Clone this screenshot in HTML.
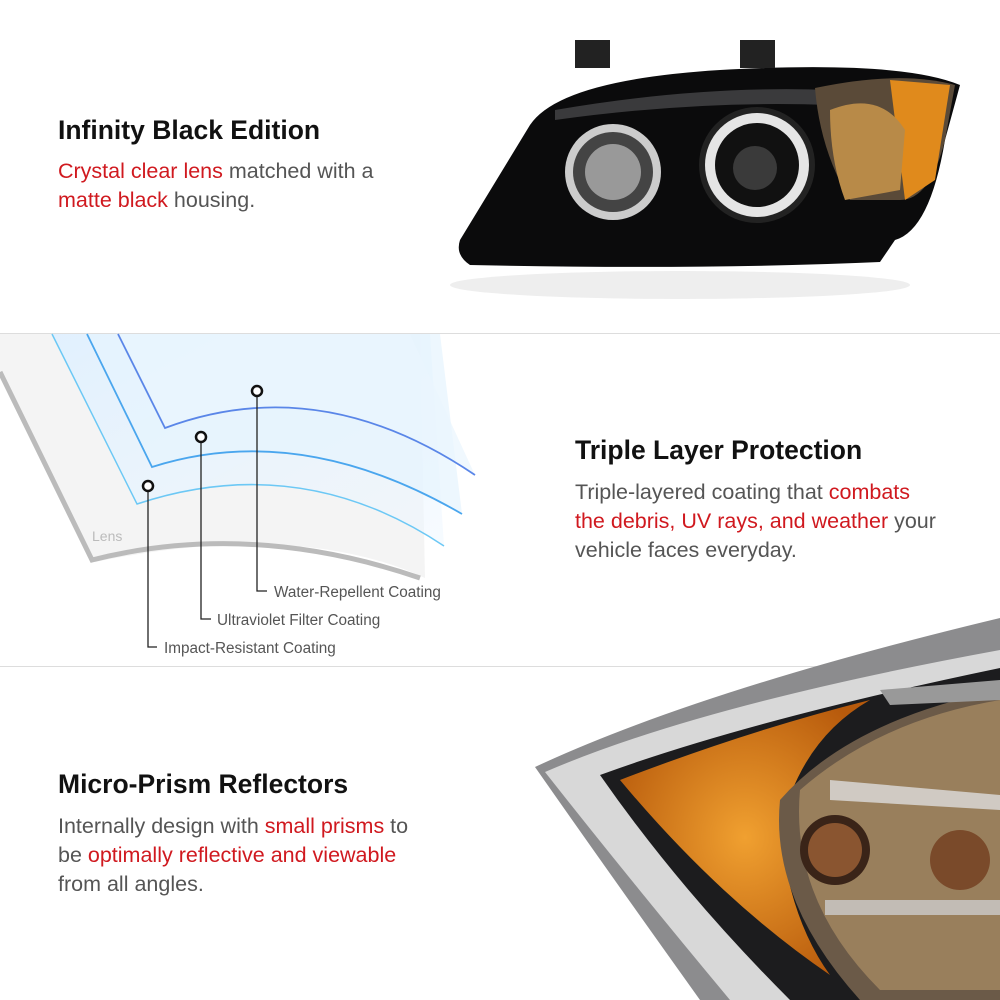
<!DOCTYPE html>
<html><head><meta charset="utf-8"><style>
body{margin:0;width:1000px;height:1000px;background:#fff;position:relative;overflow:hidden;font-family:"Liberation Sans",sans-serif}
.h{position:absolute;font-size:26.5px;color:#111;font-weight:bold;white-space:nowrap}
.p{position:absolute;font-size:21.5px;color:#555;line-height:29px;white-space:nowrap}
.r{color:#d0191f}
svg{position:absolute;left:0;top:0}
</style></head><body>
<svg width="1000" height="1000" viewBox="0 0 1000 1000">
<defs>
<linearGradient id="bl" x1="0" y1="0" x2="1" y2="1"><stop offset="0" stop-color="#dff0ff" stop-opacity=".9"/><stop offset="1" stop-color="#eef7ff" stop-opacity=".5"/></linearGradient>
<radialGradient id="am" cx=".5" cy=".5" r=".6"><stop offset="0" stop-color="#f0a030"/><stop offset="1" stop-color="#b75a0c"/></radialGradient>
</defs>
<ellipse cx="680" cy="285" rx="230" ry="14" fill="#eee"/>
<path d="M460,240 L530,125 Q560,80 720,70 Q900,60 960,85 L945,140 Q930,230 895,240 L880,262 Q700,270 470,265 Q455,255 460,240Z" fill="#0b0b0c"/>
<rect x="575" y="40" width="35" height="28" fill="#222"/><rect x="740" y="40" width="35" height="28" fill="#222"/>
<path d="M555,110 Q700,85 830,90 L830,105 Q700,100 555,120Z" fill="#3a3a3c"/>
<path d="M815,88 Q900,70 955,85 L945,140 Q930,200 900,200 L850,200 Q820,150 815,88Z" fill="#5a4a38"/>
<path d="M890,80 L950,85 L935,180 L905,200 Z" fill="#e08a1c"/>
<path d="M830,110 Q880,90 905,130 L900,190 L845,200 Q830,160 830,110Z" fill="#b88a48"/>
<circle cx="613" cy="172" r="48" fill="#ccc"/><circle cx="613" cy="172" r="40" fill="#444"/><circle cx="613" cy="172" r="28" fill="#999"/>
<circle cx="757" cy="165" r="58" fill="#222"/><circle cx="757" cy="165" r="52" fill="#e5e5e5"/><circle cx="757" cy="165" r="42" fill="#111"/><circle cx="755" cy="168" r="22" fill="#3a3a3a"/>
<rect x="0" y="333" width="1000" height="1" fill="#ddd"/>
<rect x="0" y="666" width="1000" height="1" fill="#ddd"/>
<path d="M0,334 L420,334 L425,578 Q300,520 95,562 L0,372Z" fill="#f4f4f4"/>
<path d="M0,372 L92,560 Q250,520 420,578" fill="none" stroke="#bbb" stroke-width="5"/>
<path d="M52,334 L430,334 L444,546 Q300,450 137,504Z" fill="url(#bl)"/>
<path d="M87,334 L440,334 L462,514 Q300,420 152,467Z" fill="#e6f3fd" opacity=".7"/>
<path d="M118,334 L410,334 L475,475 Q320,370 165,428Z" fill="#eaf5fe" opacity=".7"/>
<path d="M52,334 L137,504 Q300,450 444,546" fill="none" stroke="#6cc8f5" stroke-width="1.5"/>
<path d="M87,334 L152,467 Q300,420 462,514" fill="none" stroke="#4aa6ee" stroke-width="1.8"/>
<path d="M118,334 L165,428 Q320,370 475,475" fill="none" stroke="#5a86e8" stroke-width="1.8"/>
<g fill="none" stroke="#222" stroke-width="1.3">
<path d="M148,491 V647 H157"/><path d="M201,442 V619 H211"/><path d="M257,396 V591 H267"/>
</g>
<g fill="#fff" stroke="#111" stroke-width="2.5"><circle cx="148" cy="486" r="5"/><circle cx="201" cy="437" r="5"/><circle cx="257" cy="391" r="5"/></g>
<text x="92" y="541" font-family="Liberation Sans" font-size="14" fill="#bbb">Lens</text>
<g font-family="Liberation Sans" font-size="15.3" fill="#555">
<text x="274" y="597">Water-Repellent Coating</text>
<text x="217" y="625">Ultraviolet Filter Coating</text>
<text x="164" y="653">Impact-Resistant Coating</text>
</g>
<path d="M535,767 Q700,690 1000,618 L1000,1000 L700,1000 Q600,860 535,767Z" fill="#8c8c8e"/>
<path d="M545,772 Q700,705 1000,650 L1000,1000 L730,1000 Q630,880 545,772Z" fill="#d8d8d8"/>
<path d="M600,775 Q750,720 1000,668 L1000,1000 L790,1000 Q680,890 600,775Z" fill="#1c1c1e"/>
<path d="M620,780 Q750,730 870,700 Q800,740 780,830 Q790,920 830,975 Q720,900 620,780Z" fill="url(#am)"/>
<path d="M780,800 Q850,720 1000,690 L1000,1000 L860,1000 Q770,900 780,800Z" fill="#6b5a48"/>
<path d="M800,790 Q880,720 1000,700 L1000,990 L880,990 Q790,900 800,790Z" fill="#a58862" opacity=".8"/>
<circle cx="835" cy="850" r="35" fill="#3a2418"/><circle cx="835" cy="850" r="27" fill="#8a5530"/>
<circle cx="960" cy="860" r="30" fill="#7a4a2a"/>
<path d="M830,780 L1000,795 L1000,810 L830,800Z" fill="#ddd" opacity=".8"/>
<path d="M825,900 L1000,900 L1000,915 L825,915Z" fill="#ccc" opacity=".8"/>
<path d="M880,690 L1000,680 L1000,700 L890,705Z" fill="#999"/>
</svg>
<div class="h" style="left:58px;top:115px">Infinity Black Edition</div>
<div class="p" style="left:58px;top:157px"><span class="r">Crystal clear lens</span> matched with a<br><span class="r">matte black</span> housing.</div>
<div class="h" style="left:575px;top:435px">Triple Layer Protection</div>
<div class="p" style="left:575px;top:478px">Triple-layered coating that <span class="r">combats</span><br><span class="r">the debris, UV rays, and weather</span> your<br>vehicle faces everyday.</div>
<div class="h" style="left:58px;top:769px">Micro-Prism Reflectors</div>
<div class="p" style="left:58px;top:812px">Internally design with <span class="r">small prisms</span> to<br>be <span class="r">optimally reflective and viewable</span><br>from all angles.</div>
</body></html>
